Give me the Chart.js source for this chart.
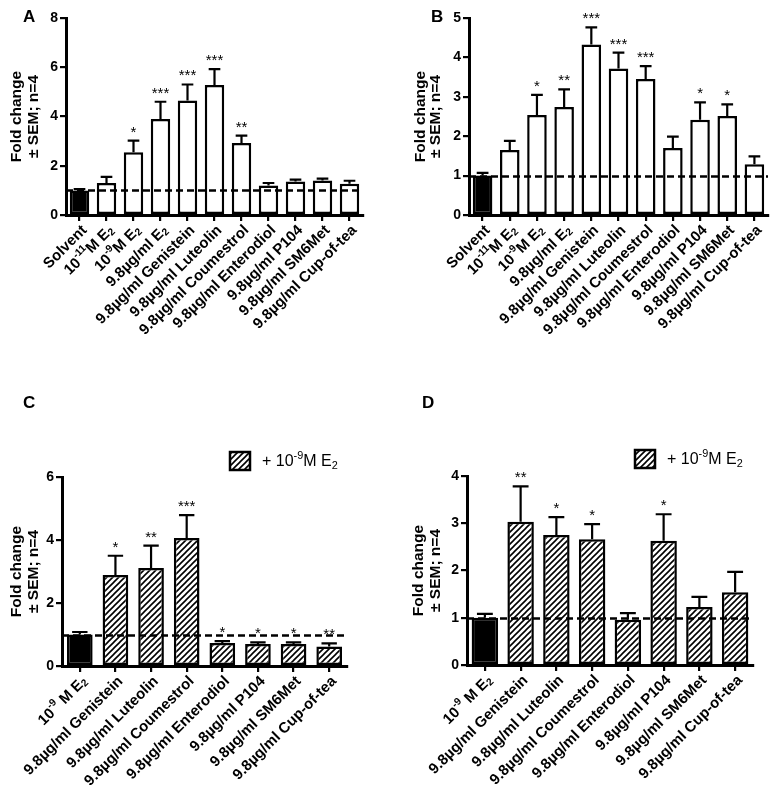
<!DOCTYPE html>
<html>
<head>
<meta charset="utf-8">
<script src="https://cdn.jsdelivr.net/npm/chart.js@4.4.1/dist/chart.umd.min.js"></script>
<style>
  html, body { margin: 0; padding: 0; background: #fff; }
  #wrap { position: relative; width: 776px; height: 792px; }
  canvas { position: absolute; }
</style>
</head>
<body>
<div id="wrap">
  <canvas id="cA" width="388" height="396" style="left:0;top:0"></canvas>
  <canvas id="cB" width="388" height="396" style="left:388px;top:0"></canvas>
  <canvas id="cC" width="388" height="396" style="left:0;top:396px"></canvas>
  <canvas id="cD" width="388" height="396" style="left:388px;top:396px"></canvas>
</div>
<script>
// ---------- DATA ----------
const categoriesAB = ['Solvent', '10^{-11}M E_{2}', '10^{-9}M E_{2}', '9.8µg/ml E_{2}', '9.8µg/ml Genistein',
  '9.8µg/ml Luteolin', '9.8µg/ml Coumestrol', '9.8µg/ml Enterodiol', '9.8µg/ml P104',
  '9.8µg/ml SM6Met', '9.8µg/ml Cup-of-tea'];
const categoriesCD = ['10^{-9} M E_{2}', '9.8µg/ml Genistein', '9.8µg/ml Luteolin', '9.8µg/ml Coumestrol',
  '9.8µg/ml Enterodiol', '9.8µg/ml P104', '9.8µg/ml SM6Met', '9.8µg/ml Cup-of-tea'];

const meanA = [1.0, 1.3, 2.55, 3.9, 4.65, 5.28, 2.92, 1.2, 1.36, 1.4, 1.27];
const semA  = [0.05, 0.25, 0.47, 0.7, 0.65, 0.64, 0.3, 0.1, 0.08, 0.08, 0.12];
const starsA = ['', '', '*', '***', '***', '***', '**', '', '', '', ''];

const meanB = [1.0, 1.65, 2.54, 2.74, 4.33, 3.72, 3.45, 1.7, 2.42, 2.51, 1.29];
const semB  = [0.07, 0.23, 0.51, 0.45, 0.43, 0.4, 0.33, 0.29, 0.44, 0.3, 0.2];
const starsB = ['', '', '*', '**', '***', '***', '***', '', '*', '*', ''];

const meanC = [1.0, 2.89, 3.11, 4.06, 0.73, 0.7, 0.7, 0.62];
const semC  = [0.08, 0.61, 0.71, 0.73, 0.06, 0.05, 0.05, 0.1];
const starsC = ['', '*', '**', '***', '*', '*', '*', '**'];

const meanD = [1.0, 3.03, 2.75, 2.66, 0.96, 2.63, 1.23, 1.54];
const semD  = [0.08, 0.75, 0.38, 0.32, 0.14, 0.56, 0.21, 0.43];
const starsD = ['', '**', '*', '*', '', '*', '', ''];

const yTicksA = { max: 8, step: 2 };
const yTicksB = { max: 5, step: 1 };
const yTicksC = { max: 6, step: 2 };
const yTicksD = { max: 4, step: 1 };

const yTitleLines = ['Fold change', '± SEM; n=4'];
const legendText = '+ 10^{-9}M E_{2}';
const baselineValue = 1;

// ---------- helpers ----------
const FAMILY = '"Liberation Sans", Arial, Helvetica, sans-serif';
const LABEL_SIZE = 15;

function parseRich(s) {
  const segs = [];
  const re = /\^\{([^}]*)\}|_\{([^}]*)\}|([^\^_]+)/g;
  let m;
  while ((m = re.exec(s)) !== null) {
    if (m[1] !== undefined) segs.push({ t: m[1], k: 'sup' });
    else if (m[2] !== undefined) segs.push({ t: m[2], k: 'sub' });
    else segs.push({ t: m[3], k: 'n' });
  }
  return segs;
}
function richWidth(ctx, segs, size, weight) {
  let w = 0;
  for (const s of segs) {
    const fs = s.k === 'n' ? size : size * 0.68;
    ctx.font = weight + ' ' + fs + 'px ' + FAMILY;
    w += ctx.measureText(s.t).width;
  }
  return w;
}
function drawRich(ctx, segs, x, y, size, weight) {
  let cx = x;
  for (const s of segs) {
    const fs = s.k === 'n' ? size : size * 0.68;
    ctx.font = weight + ' ' + fs + 'px ' + FAMILY;
    let dy = 0;
    if (s.k === 'sup') dy = -size * 0.38;
    if (s.k === 'sub') dy = size * 0.22;
    ctx.fillText(s.t, cx, y + dy);
    cx += ctx.measureText(s.t).width;
  }
}

function makeHatch() {
  const n = 6;
  const c = document.createElement('canvas');
  c.width = n; c.height = n;
  const g = c.getContext('2d');
  g.fillStyle = '#fff';
  g.fillRect(0, 0, n, n);
  g.strokeStyle = '#000';
  g.lineWidth = 1.6;
  g.beginPath();
  g.moveTo(-1, n + 1); g.lineTo(n + 1, -1);
  g.moveTo(-1, 1); g.lineTo(1, -1);
  g.moveTo(n - 1, n + 1); g.lineTo(n + 1, n - 1);
  g.stroke();
  return g.createPattern(c, 'repeat');
}

const annotPlugin = {
  id: 'annot',
  afterDatasetsDraw(chart) {
    const p = chart.config.options.plugins.annot;
    const ctx = chart.ctx;
    const ys = chart.scales.y;
    const area = chart.chartArea;
    const meta = chart.getDatasetMeta(0);
    // dashed reference line
    ctx.save();
    ctx.strokeStyle = '#000';
    ctx.lineWidth = 2.5;
    ctx.setLineDash([7, 4]);
    const yb = Math.round(ys.getPixelForValue(baselineValue)) + 0.5;
    ctx.beginPath();
    ctx.moveTo(area.left, yb);
    ctx.lineTo(area.right, yb);
    ctx.stroke();
    ctx.restore();
    // error bars and stars
    ctx.save();
    ctx.strokeStyle = '#000';
    ctx.fillStyle = '#000';
    ctx.lineWidth = 2.2;
    meta.data.forEach((bar, i) => {
      const top = ys.getPixelForValue(p.mean[i]);
      const et = ys.getPixelForValue(p.mean[i] + p.sem[i]);
      const half = bar.width * 0.3;
      ctx.beginPath();
      ctx.moveTo(bar.x, top);
      ctx.lineTo(bar.x, et);
      ctx.moveTo(bar.x - half, et);
      ctx.lineTo(bar.x + half, et);
      ctx.stroke();
      if (p.stars[i]) {
        ctx.font = 'normal 15px ' + FAMILY;
        ctx.textAlign = 'center';
        ctx.textBaseline = 'alphabetic';
        ctx.fillText(p.stars[i], bar.x, et - 4);
      }
    });
    ctx.restore();
  },
  afterDraw(chart) {
    const p = chart.config.options.plugins.annot;
    const ctx = chart.ctx;
    const xs = chart.scales.x;
    const area = chart.chartArea;
    ctx.save();
    ctx.fillStyle = '#000';
    // category labels, rotated 45°
    chart.data.labels.forEach((lab, i) => {
      const x = xs.getPixelForTick(i);
      const segs = parseRich(lab);
      const w = richWidth(ctx, segs, LABEL_SIZE, 'bold');
      ctx.save();
      ctx.translate(x + 5, area.bottom + 13);
      ctx.rotate(-Math.PI / 4);
      ctx.textBaseline = 'middle';
      ctx.textAlign = 'left';
      drawRich(ctx, segs, -w, 0, LABEL_SIZE, 'bold');
      ctx.restore();
    });
    // y title (two lines, rotated)
    const cy = (area.top + area.bottom) / 2;
    ctx.textAlign = 'center';
    ctx.textBaseline = 'middle';
    ctx.font = 'bold 15.5px ' + FAMILY;
    [p.titleX1, p.titleX2].forEach((tx, k) => {
      ctx.save();
      ctx.translate(tx, cy);
      ctx.rotate(-Math.PI / 2);
      ctx.fillText(yTitleLines[k], 0, 0);
      ctx.restore();
    });
    // panel letter
    ctx.font = 'bold 17px ' + FAMILY;
    ctx.textAlign = 'left';
    ctx.textBaseline = 'alphabetic';
    ctx.fillText(p.letter, p.letterX, p.letterY);
    // legend
    if (p.legend) {
      const L = p.legend;
      ctx.fillStyle = p.hatch;
      ctx.fillRect(L.x, L.y, 20, 18);
      ctx.strokeStyle = '#000';
      ctx.lineWidth = 2.5;
      ctx.strokeRect(L.x, L.y, 20, 18);
      ctx.fillStyle = '#000';
      ctx.textBaseline = 'middle';
      drawRich(ctx, parseRich(legendText), L.x + 32, L.y + 10, 16, 'normal');
    }
    ctx.restore();
  }
};

function makePanel(id, opt) {
  const canvas = document.getElementById(id);
  const hatch = makeHatch();
  const n = opt.labels.length;
  const bg = [], bd = [];
  for (let i = 0; i < n; i++) {
    if (i === 0) bg.push('#000');
    else bg.push(opt.hatched ? hatch : '#fff');
    bd.push('#000');
  }
  return new Chart(canvas, {
    type: 'bar',
    data: {
      labels: opt.labels,
      datasets: [{
        data: opt.mean,
        backgroundColor: bg,
        borderColor: bd,
        borderWidth: 2.5,
        borderSkipped: false,
        barPercentage: opt.barPct,
        categoryPercentage: 1.0
      }]
    },
    options: {
      responsive: false,
      animation: false,
      events: [],
      layout: { padding: opt.padding },
      plugins: {
        legend: { display: false },
        tooltip: { enabled: false },
        annot: {
          mean: opt.mean, sem: opt.sem, stars: opt.stars,
          letter: opt.letter, letterX: opt.letterX, letterY: opt.letterY,
          titleX1: opt.titleX1, titleX2: opt.titleX2,
          legend: opt.legend, hatch: hatch
        }
      },
      scales: {
        x: {
          type: 'category',
          offset: true,
          grid: { display: true, offset: false, drawOnChartArea: false, drawTicks: true,
                  tickLength: 6, color: '#000', lineWidth: 2.2 },
          border: { display: true, color: '#000', width: 3 },
          ticks: { display: false },
          afterFit: (s) => { s.height = 10; }
        },
        y: {
          min: 0, max: opt.yt.max,
          grid: { display: true, drawOnChartArea: false, drawTicks: true,
                  tickLength: 6, color: '#000', lineWidth: 2.2 },
          border: { display: true, color: '#000', width: 3 },
          ticks: { stepSize: opt.yt.step, padding: 2, color: '#000',
                   font: { family: FAMILY, size: 14, weight: 'bold' } },
          afterFit: (s) => { s.width = 40; }
        }
      }
    },
    plugins: [annotPlugin]
  });
}

makePanel('cA', {
  labels: categoriesAB, mean: meanA, sem: semA, stars: starsA, yt: yTicksA, hatched: false,
  padding: { left: 26, right: 25, top: 18, bottom: 171 }, barPct: 0.72,
  letter: 'A', letterX: 23, letterY: 22, titleX1: 17, titleX2: 34
});
makePanel('cB', {
  labels: categoriesAB, mean: meanB, sem: semB, stars: starsB, yt: yTicksB, hatched: false,
  padding: { left: 41, right: 8, top: 18, bottom: 171 }, barPct: 0.72,
  letter: 'B', letterX: 43, letterY: 22, titleX1: 33, titleX2: 48
});
makePanel('cC', {
  labels: categoriesCD, mean: meanC, sem: semC, stars: starsC, yt: yTicksC, hatched: true,
  padding: { left: 22, right: 41, top: 81, bottom: 116 }, barPct: 0.72,
  letter: 'C', letterX: 23, letterY: 12, titleX1: 17, titleX2: 34,
  legend: { x: 230, y: 56 }
});
makePanel('cD', {
  labels: categoriesCD, mean: meanD, sem: semD, stars: starsD, yt: yTicksD, hatched: true,
  padding: { left: 39, right: 23, top: 80, bottom: 117 }, barPct: 0.74,
  letter: 'D', letterX: 34, letterY: 12, titleX1: 31, titleX2: 48,
  legend: { x: 247, y: 54 }
});
</script>
</body>
</html>
